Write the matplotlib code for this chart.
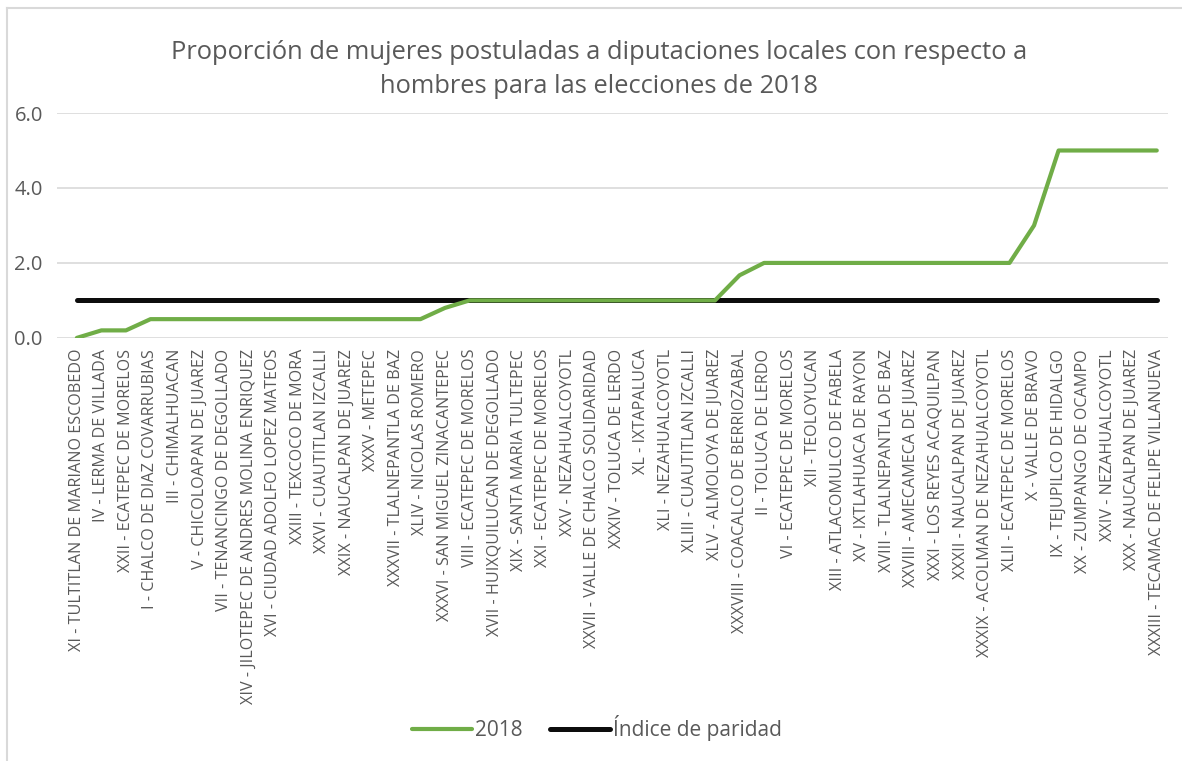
import matplotlib.pyplot as plt
from matplotlib.lines import Line2D
import numpy as np

plt.rcParams["font.family"] = ["Open Sans", "DejaVu Sans"]

districts = [
    "XI - TULTITLAN DE MARIANO ESCOBEDO",
    "IV - LERMA DE VILLADA",
    "XXII - ECATEPEC DE MORELOS",
    "I - CHALCO DE DIAZ COVARRUBIAS",
    "III - CHIMALHUACAN",
    "V - CHICOLOAPAN DE JUAREZ",
    "VII - TENANCINGO DE DEGOLLADO",
    "XIV - JILOTEPEC DE ANDRES MOLINA ENRIQUEZ",
    "XVI - CIUDAD ADOLFO LOPEZ MATEOS",
    "XXIII - TEXCOCO DE MORA",
    "XXVI - CUAUTITLAN IZCALLI",
    "XXIX - NAUCALPAN DE JUAREZ",
    "XXXV - METEPEC",
    "XXXVII - TLALNEPANTLA DE BAZ",
    "XLIV - NICOLAS ROMERO",
    "XXXVI - SAN MIGUEL ZINACANTEPEC",
    "VIII - ECATEPEC DE MORELOS",
    "XVII - HUIXQUILUCAN DE DEGOLLADO",
    "XIX - SANTA MARIA TULTEPEC",
    "XXI - ECATEPEC DE MORELOS",
    "XXV - NEZAHUALCOYOTL",
    "XXVII - VALLE DE CHALCO SOLIDARIDAD",
    "XXXIV - TOLUCA DE LERDO",
    "XL - IXTAPALUCA",
    "XLI - NEZAHUALCOYOTL",
    "XLIII - CUAUTITLAN IZCALLI",
    "XLV - ALMOLOYA DE JUAREZ",
    "XXXVIII - COACALCO DE BERRIOZABAL",
    "II - TOLUCA DE LERDO",
    "VI - ECATEPEC DE MORELOS",
    "XII - TEOLOYUCAN",
    "XIII - ATLACOMULCO DE FABELA",
    "XV - IXTLAHUACA DE RAYON",
    "XVIII - TLALNEPANTLA DE BAZ",
    "XXVIII - AMECAMECA DE JUAREZ",
    "XXXI - LOS REYES ACAQUILPAN",
    "XXXII - NAUCALPAN DE JUAREZ",
    "XXXIX - ACOLMAN DE NEZAHUALCOYOTL",
    "XLII - ECATEPEC DE MORELOS",
    "X - VALLE DE BRAVO",
    "IX - TEJUPILCO DE HIDALGO",
    "XX - ZUMPANGO DE OCAMPO",
    "XXIV - NEZAHUALCOYOTL",
    "XXX - NAUCALPAN DE JUAREZ",
    "XXXIII - TECAMAC DE FELIPE VILLANUEVA",
]

ratio_2018 = [
    0.0, 0.2, 0.2, 0.5, 0.5, 0.5, 0.5, 0.5, 0.5, 0.5,
    0.5, 0.5, 0.5, 0.5, 0.5, 0.8, 1.0, 1.0, 1.0, 1.0,
    1.0, 1.0, 1.0, 1.0, 1.0, 1.0, 1.0, 1.67, 2.0, 2.0,
    2.0, 2.0, 2.0, 2.0, 2.0, 2.0, 2.0, 2.0, 2.0, 3.0,
    5.0, 5.0, 5.0, 5.0, 5.0,
]
parity = [1.0] * len(districts)

yticks = [0.0, 2.0, 4.0, 6.0]

fig = plt.figure(figsize=(11.82, 7.61), dpi=100)
ax = fig.add_axes([0.048, 0.556, 0.940, 0.2955])

x = np.arange(len(districts))
ax.plot(x, ratio_2018, color="#70AD47", lw=3.0, solid_capstyle="round",
        solid_joinstyle="round", label="2018", zorder=3)
ax.plot(x, parity, color="#0D0D0D", lw=3.6, solid_capstyle="round",
        label="Índice de paridad", zorder=2)

ax.set_xlim(-0.82, len(districts) - 1 + 0.45)
ax.set_ylim(0, 6)
ax.set_yticks(yticks)
ax.set_yticklabels([f"{v:.1f}" for v in yticks], fontsize=14.5, color="#595959")
ax.set_xticks(x)
ax.set_xticklabels(districts, rotation=90, fontsize=11.6, color="#595959")
ax.tick_params(axis="both", length=0)
ax.tick_params(axis="x", pad=8)
ax.tick_params(axis="y", pad=10)

ax.grid(axis="y", color="#D9D9D9", lw=1.2)
ax.set_axisbelow(True)
for side in ["top", "right", "left", "bottom"]:
    ax.spines[side].set_visible(False)

fig.text(0.507, 0.909,
         "Proporción de mujeres postuladas a diputaciones locales con respecto a\n"
         "hombres para las elecciones de 2018",
         ha="center", va="center", fontsize=18.4, color="#595959",
         linespacing=1.5)

leg = fig.legend(loc="center", bbox_to_anchor=(0.505, 0.043), ncol=2,
                 frameon=False, fontsize=15, handlelength=2.9,
                 handletextpad=0.15, columnspacing=1.3)
for t in leg.get_texts():
    t.set_color("#595959")

# light chart-area border
fig.add_artist(Line2D([7 / 1182, 1.0], [1 - 8 / 761, 1 - 8 / 761],
                      color="#D9D9D9", lw=1.5, transform=fig.transFigure))
fig.add_artist(Line2D([7 / 1182, 7 / 1182], [0.0, 1 - 8 / 761],
                      color="#D9D9D9", lw=1.5, transform=fig.transFigure))

fig.savefig("out.png", dpi=100)
